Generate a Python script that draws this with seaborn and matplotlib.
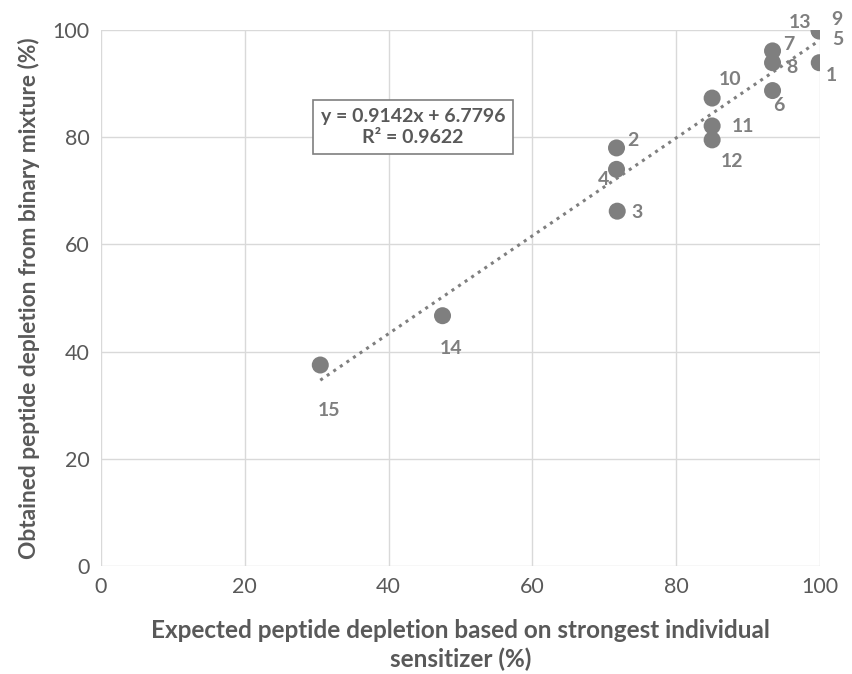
import numpy as np
import pandas as pd
import matplotlib
matplotlib.use("Agg")
import matplotlib.pyplot as plt
import seaborn as sns

ids = ["1", "2", "3", "4", "5", "6", "7", "8", "9", "10", "11", "12", "13", "14", "15"]
expected = [99.9, 71.7, 71.8, 71.7, 99.9, 93.4, 93.4, 93.4, 99.9, 85.0, 85.0, 85.0, 99.9, 47.5, 30.5]
obtained = [93.9, 78.0, 66.2, 74.0, 99.8, 88.7, 96.1, 93.9, 99.9, 87.3, 82.1, 79.5, 99.9, 46.7, 37.5]
# label offsets in pixels (dx right, dy down)
label_offsets = {
    "1": (12, 13), "2": (16, -7), "3": (20, 1), "4": (-13, 10), "5": (19, 8),
    "6": (6, 15), "7": (16, -6), "8": (19, 5), "9": (18, -11), "10": (18, -19),
    "11": (31, 1), "12": (20, 22), "13": (-19, -8), "14": (9, 33), "15": (9, 45),
}
eq_text = "y = 0.9142x + 6.7796\nR² = 0.9622"

df = pd.DataFrame({"expected": expected, "obtained": obtained, "id": ids})

sns.set_theme(style="white")
plt.rcParams["font.family"] = ["Lato", "DejaVu Sans"]

grey = "#7f7f7f"
txt = "#595959"

fig = plt.figure(figsize=(8.53, 6.74), dpi=100)
ax = fig.add_axes([0.1184, 0.1602, 0.8429, 0.7953])

sns.regplot(data=df, x="expected", y="obtained", ax=ax, ci=None, truncate=True,
            scatter_kws=dict(s=150, color=grey, edgecolor="none", alpha=1, zorder=3),
            line_kws=dict(color=grey, linestyle=(0, (1, 1.6)), linewidth=2.2, zorder=2))

for i, xv, yv in zip(ids, expected, obtained):
    dx, dy = label_offsets[i]
    ax.annotate(i, (xv, yv), xytext=(dx, -dy), textcoords="offset pixels",
                ha="center", va="center",
                fontsize=14, fontweight="bold", color=grey, zorder=4)

ax.text(43.4, 81.9, eq_text, ha="center", va="center", fontsize=14,
        fontweight="bold", color=txt, linespacing=1.25,
        bbox=dict(boxstyle="square,pad=0.42", fc="white", ec=grey, lw=1.2), zorder=5)

ax.set_xlim(0, 100)
ax.set_ylim(0, 100)
ax.set_xticks(range(0, 101, 20))
ax.set_yticks(range(0, 101, 20))
ax.grid(True, color="#d9d9d9", linewidth=1)
ax.set_axisbelow(True)
for s in ax.spines.values():
    s.set_visible(False)
ax.tick_params(axis="both", length=0, labelsize=15.5, labelcolor=txt, pad=8)
ax.set_xlabel("Expected peptide depletion based on strongest individual\nsensitizer (%)",
              fontsize=17.5, fontweight="bold", color=txt, labelpad=16, linespacing=1.25)
ax.set_ylabel("Obtained peptide depletion from binary mixture (%)",
              fontsize=16.4, fontweight="bold", color=txt, labelpad=9)

fig.savefig("out.png", dpi=100)
